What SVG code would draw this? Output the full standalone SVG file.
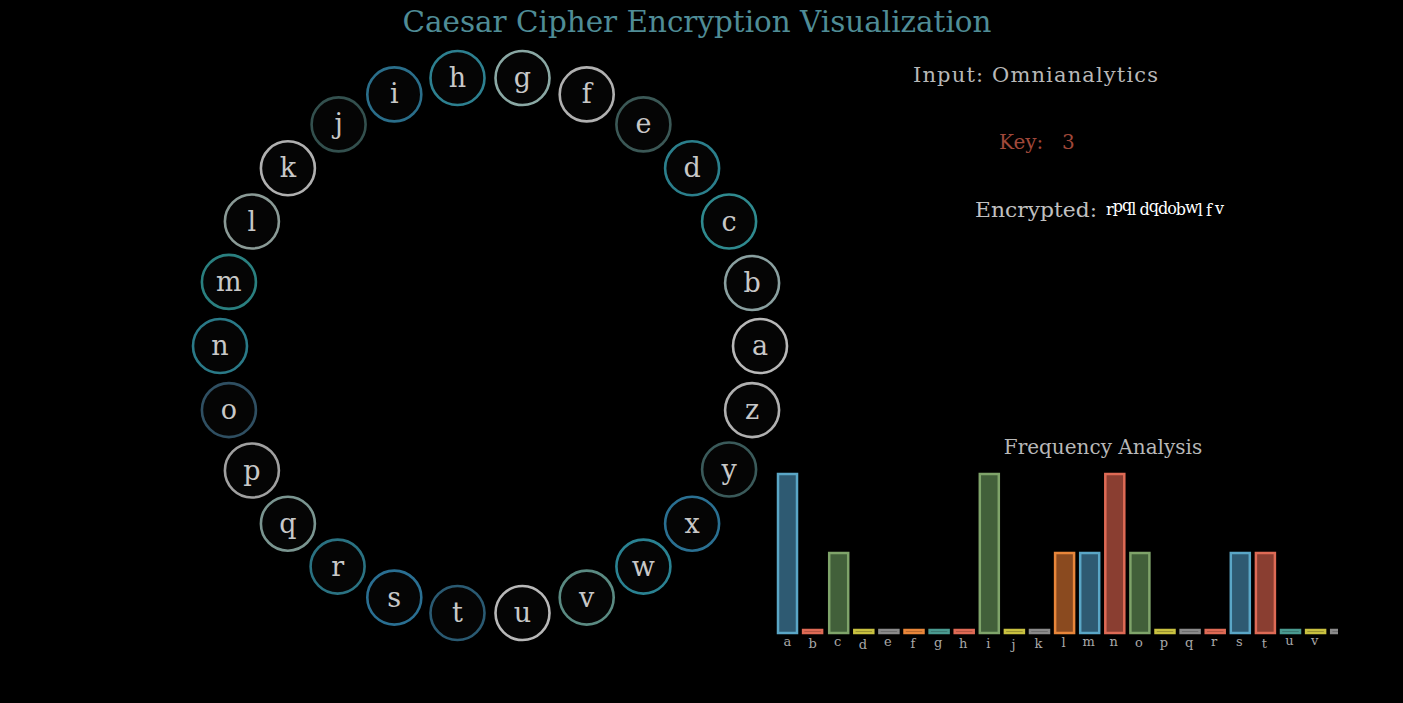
<svg xmlns="http://www.w3.org/2000/svg" width="1403" height="703" viewBox="0 0 1403 703">
<style>
.t{font-family:"DejaVu Serif","Liberation Serif",serif}
.ring circle{fill:#050505;stroke-width:2.6}
.ring text{font-family:"DejaVu Serif","Liberation Serif",serif;font-size:27px;text-anchor:middle;fill:#c8c8c8}
.bar{stroke-width:2.5}
.lbl{font-family:"DejaVu Serif","Liberation Serif",serif;font-size:13px;fill:#a8a8a8;text-anchor:middle}
.blue{fill:#2e5a72;stroke:#5aa6c6}
.red{fill:#8a3e31;stroke:#de6a55}
.green{fill:#42603a;stroke:#7fa46a}
.yellow{fill:#6a6420;stroke:#c8c040}
.gray{fill:#505050;stroke:#8a8a8a}
.orange{fill:#8a4a1f;stroke:#e8863a}
.teal{fill:#2f5a55;stroke:#4a9a90}
</style>
<defs><clipPath id="chartclip"><rect x="760" y="440" width="578" height="230"/></clipPath></defs>
<rect width="1403" height="703" fill="#000"/>
<text class="t" x="697" y="32" font-size="29" fill="#4f8c96" text-anchor="middle" textLength="589" lengthAdjust="spacingAndGlyphs">Caesar Cipher Encryption Visualization</text>

<g id="wheel" class="ring">
<g id="node-a"><circle cx="760" cy="346" r="27" stroke="#b8b8b8"/><text x="760" y="355">a</text></g>
<g id="node-b"><circle cx="752.1" cy="283" r="27" stroke="#8aa0a0"/><text x="752.1" y="292" fill="#b0b0a0">b</text></g>
<g id="node-c"><circle cx="729.1" cy="221.5" r="27" stroke="#2f8a8f"/><text x="729.1" y="230.5">c</text></g>
<g id="node-d"><circle cx="692.1" cy="168.3" r="27" stroke="#2b7f8c"/><text x="692.1" y="177.3" fill="#b0b0a0">d</text></g>
<g id="node-e"><circle cx="643.4" cy="124.4" r="27" stroke="#3b5856"/><text x="643.4" y="133.4">e</text></g>
<g id="node-f"><circle cx="586.7" cy="94.4" r="27" stroke="#b0b0b0"/><text x="586.7" y="103.4">f</text></g>
<g id="node-g"><circle cx="522.5" cy="78" r="27" stroke="#8aa8a4"/><text x="522.5" y="87">g</text></g>
<g id="node-h"><circle cx="457.5" cy="78" r="27" stroke="#2d8090"/><text x="457.5" y="87">h</text></g>
<g id="node-i"><circle cx="394.3" cy="94.4" r="27" stroke="#2a6e8a"/><text x="394.3" y="103.4">i</text></g>
<g id="node-j"><circle cx="338.6" cy="124.4" r="27" stroke="#33504e"/><text x="338.6" y="133.4">j</text></g>
<g id="node-k"><circle cx="287.9" cy="168.3" r="27" stroke="#b0b0b0"/><text x="287.9" y="177.3">k</text></g>
<g id="node-l"><circle cx="251.9" cy="221.5" r="27" stroke="#8a9a96"/><text x="251.9" y="230.5" fill="#a8a8a8">l</text></g>
<g id="node-m"><circle cx="228.9" cy="281.9" r="27" stroke="#2a8080"/><text x="228.9" y="290.9">m</text></g>
<g id="node-n"><circle cx="220" cy="346" r="27" stroke="#2a7a88"/><text x="220" y="355">n</text></g>
<g id="node-o"><circle cx="228.9" cy="410.1" r="27" stroke="#2f4f62"/><text x="228.9" y="419.1" fill="#7a7a70">o</text></g>
<g id="node-p"><circle cx="251.9" cy="470.5" r="27" stroke="#a0a0a0"/><text x="251.9" y="479.5" fill="#9a9470">p</text></g>
<g id="node-q"><circle cx="287.9" cy="523.7" r="27" stroke="#7a9590"/><text x="287.9" y="532.7" fill="#a0a898">q</text></g>
<g id="node-r"><circle cx="337.6" cy="566.6" r="27" stroke="#2a7282"/><text x="337.6" y="575.6" fill="#a8a898">r</text></g>
<g id="node-s"><circle cx="394.3" cy="597.6" r="27" stroke="#2a6f92"/><text x="394.3" y="606.6">s</text></g>
<g id="node-t"><circle cx="457.5" cy="613" r="27" stroke="#2a5a72"/><text x="457.5" y="622">t</text></g>
<g id="node-u"><circle cx="522.5" cy="613" r="27" stroke="#b8b8b8"/><text x="522.5" y="622">u</text></g>
<g id="node-v"><circle cx="586.7" cy="597.6" r="27" stroke="#5a8a82"/><text x="586.7" y="606.6" fill="#a0a0a0">v</text></g>
<g id="node-w"><circle cx="643.4" cy="566.6" r="27" stroke="#2a8292"/><text x="643.4" y="575.6" fill="#a0a878">w</text></g>
<g id="node-x"><circle cx="692.1" cy="523.7" r="27" stroke="#2a7092"/><text x="692.1" y="532.7">x</text></g>
<g id="node-y"><circle cx="729.1" cy="469.5" r="27" stroke="#3a5a5a"/><text x="729.1" y="478.5">y</text></g>
<g id="node-z"><circle cx="752.1" cy="410.1" r="27" stroke="#b0b0b0"/><text x="752.1" y="419.1">z</text></g>
</g>

<g id="info">
<text class="t" x="913" y="82" font-size="21" fill="#b8b8b8" textLength="245" lengthAdjust="spacing">Input: Omnianalytics</text>
<text class="t" x="999" y="149" font-size="20" fill="#a0483a">Key: <tspan x="1062">3</tspan></text>
<text class="t" x="975" y="217" font-size="21" fill="#c0c0c0" textLength="122" lengthAdjust="spacingAndGlyphs">Encrypted:</text>
<text class="t" x="1106" y="215" font-size="16" fill="#ffffff" textLength="118" lengthAdjust="spacing">r<tspan dy="-3">p</tspan><tspan dy="-1">q</tspan><tspan dy="4">l</tspan><tspan> </tspan><tspan>d</tspan><tspan dy="-3">q</tspan><tspan dy="2">d</tspan>o<tspan dy="1">b</tspan><tspan dy="-2">w</tspan><tspan dy="3">l</tspan> f<tspan dy="-2"> v</tspan></text>
</g>

<g id="chart">
<text class="t" x="1103" y="454" font-size="20" fill="#b8b8b8" text-anchor="middle">Frequency Analysis</text>
<g clip-path="url(#chartclip)">
<rect class="bar blue" x="778" y="474" width="19" height="159"/>
<rect class="bar red" x="803.1" y="630" width="19" height="3"/>
<rect class="bar green" x="829.2" y="553" width="19" height="80"/>
<rect class="bar yellow" x="854.3" y="630" width="19" height="3"/>
<rect class="bar gray" x="879.4" y="630" width="19" height="3"/>
<rect class="bar orange" x="904.5" y="630" width="19" height="3"/>
<rect class="bar teal" x="929.6" y="630" width="19" height="3"/>
<rect class="bar red" x="954.7" y="630" width="19" height="3"/>
<rect class="bar green" x="979.8" y="474" width="19" height="159"/>
<rect class="bar yellow" x="1004.9" y="630" width="19" height="3"/>
<rect class="bar gray" x="1030" y="630" width="19" height="3"/>
<rect class="bar orange" x="1055.1" y="553" width="19" height="80"/>
<rect class="bar blue" x="1080.2" y="553" width="19" height="80"/>
<rect class="bar red" x="1105.3" y="474" width="19" height="159"/>
<rect class="bar green" x="1130.4" y="553" width="19" height="80"/>
<rect class="bar yellow" x="1155.5" y="630" width="19" height="3"/>
<rect class="bar gray" x="1180.6" y="630" width="19" height="3"/>
<rect class="bar red" x="1205.7" y="630" width="19" height="3"/>
<rect class="bar blue" x="1230.8" y="553" width="19" height="80"/>
<rect class="bar red" x="1255.9" y="553" width="19" height="80"/>
<rect class="bar teal" x="1281" y="630" width="19" height="3"/>
<rect class="bar yellow" x="1306.1" y="630" width="19" height="3"/>
<rect class="bar gray" x="1331.2" y="630" width="19" height="3"/>
</g>
<text class="lbl" x="787.5" y="646">a</text>
<text class="lbl" x="812.6" y="648">b</text>
<text class="lbl" x="837.7" y="646">c</text>
<text class="lbl" x="862.8" y="649">d</text>
<text class="lbl" x="887.9" y="646">e</text>
<text class="lbl" x="913" y="648">f</text>
<text class="lbl" x="938.1" y="647">g</text>
<text class="lbl" x="963.2" y="648">h</text>
<text class="lbl" x="988.3" y="648">i</text>
<text class="lbl" x="1013.4" y="649">j</text>
<text class="lbl" x="1038.5" y="648">k</text>
<text class="lbl" x="1063.6" y="647">l</text>
<text class="lbl" x="1088.7" y="646">m</text>
<text class="lbl" x="1113.8" y="646">n</text>
<text class="lbl" x="1138.9" y="647">o</text>
<text class="lbl" x="1164" y="647">p</text>
<text class="lbl" x="1189.1" y="647">q</text>
<text class="lbl" x="1214.2" y="646">r</text>
<text class="lbl" x="1239.3" y="646">s</text>
<text class="lbl" x="1264.4" y="648">t</text>
<text class="lbl" x="1289.5" y="645">u</text>
<text class="lbl" x="1314.6" y="645">v</text>
</g>
</svg>
